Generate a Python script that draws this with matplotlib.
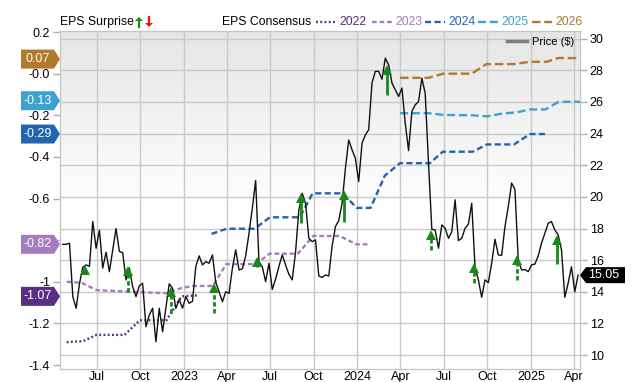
import numpy as np
import pandas as pd
import matplotlib
matplotlib.use('Agg')
import matplotlib.pyplot as plt
from matplotlib.patches import Polygon
from matplotlib.lines import Line2D

plt.rcParams['font.family'] = ['Liberation Sans', 'DejaVu Sans']

# weekly closing price ($)
price_start = '2022-04-21'
price = [
    17.0, 17.0, 17.07, 13.69, 12.96, 14.5, 15.55, 15.7, 15.6, 18.44,
    16.75, 17.9, 15.5, 16.5, 15.27, 16.65, 18.0, 16.55, 16.47, 14.75,
    15.5, 14.32, 13.69, 14.37, 14.54, 11.79, 12.53, 12.96, 10.84, 12.96,
    11.47, 12.96, 14.5, 14.22, 12.95, 13.52, 12.96, 13.69, 13.27, 13.4,
    15.6, 16.27, 15.7, 15.9, 15.8, 16.33, 14.6, 14.0, 13.37, 14.0,
    13.9, 15.48, 16.65, 15.38, 15.45, 16.27, 17.7, 19.28, 21.03, 15.9,
    15.58, 14.64, 15.8, 14.15, 14.8, 15.6, 16.33, 15.7, 15.1, 14.75,
    16.5, 19.18, 20.23, 19.6, 17.38, 17.17, 17.28, 15.0, 14.9, 15.06,
    15.0, 16.9, 18.12, 18.5, 19.6, 21.8, 23.6, 22.97, 22.44, 20.97,
    23.39, 23.92, 24.24, 27.2, 27.94, 27.94, 27.44, 28.77, 28.35, 27.2,
    26.77, 26.35, 26.88, 24.66, 22.93, 25.4, 25.82, 26.03, 27.5, 26.56,
    22.13, 17.95, 17.91, 16.75, 18.23, 18.02, 17.38, 17.8, 19.81, 17.24,
    17.38, 18.02, 18.27, 19.6, 15.55, 14.75, 13.65, 14.75, 14.58, 15.8,
    17.32, 16.33, 16.3, 18.12, 19.39, 20.87, 20.48, 16.01, 15.38, 15.4,
    15.27, 15.7, 15.75, 16.27, 17.07, 17.7, 18.33, 18.44, 17.9, 17.6,
    16.65, 13.65, 14.54, 15.58, 14.0, 15.05]

# EPS consensus by fiscal year
eps22_dates = ['2022-04-29', '2022-06-03', '2022-07-01', '2022-08-29', '2022-09-30',
               '2022-11-25', '2022-12-27', '2023-01-31']
eps22 = [-1.29, -1.285, -1.255, -1.255, -1.185, -1.185, -1.07, -1.065]

eps23_dates = ['2022-04-29', '2022-05-31', '2022-07-01', '2022-09-30', '2022-11-25',
               '2022-12-27', '2023-01-20', '2023-03-03', '2023-03-31', '2023-06-02',
               '2023-06-30', '2023-08-29', '2023-09-30', '2023-11-25', '2023-12-30',
               '2024-01-27']
eps23 = [-1.0, -1.005, -1.04, -1.05, -1.055, -1.03, -1.02, -1.02, -0.915, -0.915,
         -0.865, -0.865, -0.78, -0.78, -0.82, -0.82]

eps24_dates = ['2023-02-28', '2023-04-01', '2023-05-30', '2023-07-01', '2023-09-02',
               '2023-09-29', '2023-12-01', '2023-12-31', '2024-01-29', '2024-02-28',
               '2024-03-31', '2024-06-02', '2024-06-29', '2024-08-31', '2024-09-30',
               '2024-11-26', '2024-12-30', '2025-01-31']
eps24 = [-0.77, -0.745, -0.745, -0.69, -0.69, -0.575, -0.575, -0.645, -0.645, -0.49,
         -0.43, -0.43, -0.375, -0.375, -0.34, -0.34, -0.29, -0.29]

eps25_dates = ['2024-03-31', '2024-05-31', '2024-06-29', '2024-08-31', '2024-09-30',
               '2024-11-01', '2024-12-01', '2024-12-30', '2025-01-31', '2025-02-28',
               '2025-04-14']
eps25 = [-0.19, -0.19, -0.198, -0.20, -0.205, -0.192, -0.186, -0.172, -0.172, -0.135,
         -0.135]

eps26_dates = ['2024-03-31', '2024-05-30', '2024-06-30', '2024-08-29', '2024-09-29',
               '2024-11-24', '2024-12-30', '2025-02-03', '2025-02-27', '2025-04-14']
eps26 = [-0.02, -0.02, 0.0, 0.0, 0.046, 0.046, 0.057, 0.057, 0.075, 0.075]

# EPS surprise arrows (price scale)
surprise_dates = ['2022-06-07', '2022-09-05', '2022-12-04', '2023-03-05', '2023-06-03',
                  '2023-09-04', '2023-12-03', '2024-03-03', '2024-06-04', '2024-09-03',
                  '2024-12-03', '2025-02-25']
surprise_base = [15.13, 13.99, 12.66, 12.66, 15.57, 18.35, 18.42, 26.46, 16.65, 14.56,
                 14.75, 15.76]
surprise_tip = [15.6, 15.5, 14.2, 14.45, 16.1, 20.15, 20.3, 28.25, 17.8, 15.7,
                16.2, 17.5]
surprise_solid = [False, False, False, False, False, True, True, True, False, False,
                  False, True]

years = ['2022', '2023', '2024', '2025', '2026']
colors = ['#5b2d84', '#a57cbf', '#2164b0', '#3fa1d2', '#b07a2a']
styles = [(0, (0.8, 1.0)), (0, (2.0, 1.2)), (0, (2.6, 1.4)), (0, (3.4, 1.6)), (0, (3.6, 1.6))]
eps_dates = [eps22_dates, eps23_dates, eps24_dates, eps25_dates, eps26_dates]
eps_vals = [eps22, eps23, eps24, eps25, eps26]
tag_vals = ['-1.07', '-0.82', '-0.29', '-0.13', '0.07']

green = '#188a18'
grid_c = '#c9c9c9'

fig = plt.figure(figsize=(6.4, 3.82), dpi=100)
ax = fig.add_axes([60 / 640, 13 / 382, 520 / 640, 338 / 382])
ax2 = ax.twinx()

# background gradient
grad = np.concatenate([np.linspace(0.895, 1.0, 60), np.ones(50)])[:, None]
ax.imshow(grad, extent=[0, 1, 0, 1], transform=ax.transAxes, aspect='auto',
          cmap='gray', vmin=0, vmax=1, zorder=0)

for d, v, c, ls in zip(eps_dates, eps_vals, colors, styles):
    ax.plot(pd.to_datetime(d), v, color=c, lw=1.7, linestyle=ls, zorder=3)

pdates = pd.date_range(price_start, periods=len(price), freq='7D')
ax2.plot(pdates, price, color='#111111', lw=1.0, zorder=4)

head = 0.42
for d, b, t, s in zip(surprise_dates, surprise_base, surprise_tip, surprise_solid):
    dt = pd.Timestamp(d)
    ax2.plot([dt, dt], [b, t - head * 0.8], color=green, lw=2.0,
             linestyle='-' if s else (0, (1.6, 0.9)), solid_capstyle='butt', zorder=5)
    ax2.plot(dt, t - head / 2, marker='^', color=green, markersize=7,
             markeredgewidth=0, zorder=6)

xmin, xmax = pd.Timestamp('2022-04-15'), pd.Timestamp('2025-04-14')
ax.set_xlim(xmin, xmax)
ax.set_ylim(-1.419, 0.205)
ax2.set_ylim(9.115, 30.49)

xt = pd.date_range('2022-07-01', '2025-04-01', freq='QS')
xl = [str(t.year) if t.month == 1 else t.strftime('%b') for t in xt]
ax.set_xticks(xt)
ax.set_xticklabels(xl)
ax.xaxis.grid(True, color=grid_c, lw=1)
ax.set_yticks([0.2, 0.0, -0.2, -0.4, -0.6, -0.8, -1.0, -1.2, -1.4])
ax.set_yticklabels(['0.2', '-0.0', '-0.2', '-0.4', '-0.6', '', '-1', '-1.2', '-1.4'])
ptick = np.arange(10, 31, 2)
ax2.set_yticks(ptick)

# horizontal grid follows the price axis but sits under the EPS lines
to_eps = ax.transData.inverted()
for p in ptick:
    disp = ax2.transData.transform((0, p))
    ax.axhline(to_eps.transform(disp)[1], color=grid_c, lw=1, zorder=1)

for a in (ax, ax2):
    a.tick_params(labelsize=9, color='#b0b0b0', length=5, width=1, pad=2)
    for sp in a.spines.values():
        sp.set_color('#c4c4c4')
ax.tick_params(axis='x', length=0, pad=1.5, labelsize=9)

fig.canvas.draw()
to_fig = fig.transFigure.inverted()


def tag_left(val, text, color):
    y = ax.transData.transform((0, val))[1]
    xs = [21, 54, 60, 54, 21]
    ys = [y + 9.5, y + 9.5, y, y - 9.5, y - 9.5]
    pts = to_fig.transform(np.column_stack([xs, ys]))
    fig.add_artist(Polygon(pts, closed=True, transform=fig.transFigure,
                           facecolor=color, edgecolor='none', zorder=10))
    fx, fy = to_fig.transform((37.5, y))
    fig.text(fx, fy, text, color='white', fontsize=9, ha='center', va='center', zorder=11)


for v, c in zip(tag_vals, colors):
    tag_left(float(v), v, c)

# current price tag
yp = ax2.transData.transform((0, price[-1]))[1]
xs = [580, 586, 625, 625, 586]
ys = [yp, yp + 8, yp + 8, yp - 8, yp - 8]
pts = to_fig.transform(np.column_stack([xs, ys]))
fig.add_artist(Polygon(pts, closed=True, transform=fig.transFigure,
                       facecolor='black', edgecolor='none', zorder=10))
fx, fy = to_fig.transform((604, yp))
fig.text(fx, fy, '%.2f' % price[-1], color='white', fontsize=9, ha='center', va='center',
         zorder=11)


# header legend, positions in pixels from top-left
def fpos(x, y):
    return x / 640, 1 - y / 382


hy = 22
fig.text(*fpos(60, hy), 'EPS Surprise', fontsize=8.8, ha='left', va='center')
fig.add_artist(Polygon([fpos(139, hy - 5), fpos(143, hy - 1), fpos(135, hy - 1)],
                       transform=fig.transFigure, facecolor=green, edgecolor='none'))
fig.add_artist(Line2D([139 / 640] * 2, [1 - (hy - 1) / 382, 1 - (hy + 5) / 382],
                      transform=fig.transFigure, color=green, lw=1.6))
fig.add_artist(Polygon([fpos(149, hy + 5), fpos(153, hy + 1), fpos(145, hy + 1)],
                       transform=fig.transFigure, facecolor='#e8161b', edgecolor='none'))
fig.add_artist(Line2D([149 / 640] * 2, [1 - (hy - 5) / 382, 1 - (hy + 1) / 382],
                      transform=fig.transFigure, color='#e8161b', lw=1.6))
fig.text(*fpos(222, hy), 'EPS Consensus', fontsize=8.8, ha='left', va='center')

sw_x = [316, 372, 425, 478, 532]
for x0, yr, c, ls in zip(sw_x, years, colors, styles):
    fig.add_artist(Line2D([x0 / 640, (x0 + 20) / 640], [1 - hy / 382] * 2,
                          transform=fig.transFigure, color=c, lw=1.7, linestyle=ls))
    fig.text(*fpos(x0 + 23, hy), yr, fontsize=8.8, color=c, ha='left', va='center')

fig.add_artist(Line2D([507 / 640, 527 / 640], [1 - 41 / 382] * 2,
                      transform=fig.transFigure, color='#7f7f7f', lw=2.5))
fig.text(*fpos(532, 42), 'Price ($)', fontsize=8, ha='left', va='center')

fig.savefig('out.png', dpi=100)
